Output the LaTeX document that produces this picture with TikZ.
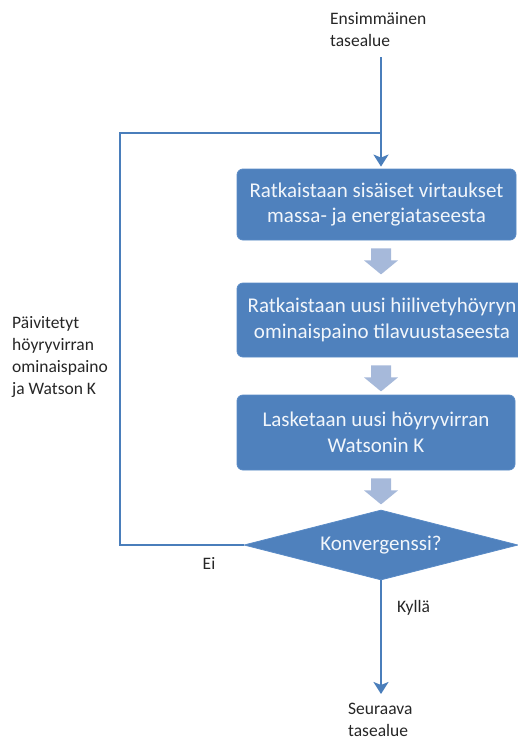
\documentclass[tikz,border=0pt]{standalone}
\usepackage{fontspec}
\setmainfont{Carlito}
\usetikzlibrary{arrows.meta,shapes.geometric}

\definecolor{boxblue}{HTML}{4F81BD}
\definecolor{boxedge}{HTML}{5A8BC6}
\definecolor{boxtext}{HTML}{F2F6FB}
\definecolor{flowblue}{HTML}{4A7EBB}
\definecolor{fatgray}{HTML}{A6B9DA}
\definecolor{labeltext}{HTML}{262626}

\tikzset{
  stepbox/.style={rectangle, rounded corners=6pt, fill=boxblue, draw=boxedge,
    line width=0.8pt, text=boxtext, align=center, inner sep=0pt,
    font=\fontsize{21}{25.5}\selectfont},
  decision/.style={diamond, aspect=3.9, fill=boxblue, draw=boxedge, line width=0.8pt,
    text=boxtext, inner sep=0pt, minimum width=274pt, minimum height=70pt,
    font=\fontsize{21}{25.5}\selectfont},
  lbl/.style={align=left, inner sep=0pt, text=labeltext,
    font=\fontsize{17.5}{22}\selectfont},
  flow/.style={draw=flowblue, line width=2.6pt, line join=miter},
  flowarrow/.style={flow, -{Stealth[length=12pt,width=15pt,inset=3pt]}},
  fatarrow/.pic={
    \fill[fatgray] (-10,8) -- (10,8) -- (10,20) -- (17,20) -- (0,34)
      -- (-17,20) -- (-10,20) -- cycle;
  }
}

\begin{document}
\begin{tikzpicture}[x=1pt,y=-1pt]
  \useasboundingbox (0,0) rectangle (518,740);
  \clip (0,0) rectangle (518,740);

  % process steps
  \node[stepbox, minimum width=279pt, minimum height=71pt] (b1) at (376.5,204.5)
    {Ratkaistaan sisäiset virtaukset\\massa- ja energiataseesta};
  \node[stepbox, minimum width=290pt, minimum height=74pt] (b2) at (382,320)
    {Ratkaistaan uusi hiilivetyhöyryn\\ominaispaino tilavuustaseesta};
  \node[stepbox, minimum width=278pt, minimum height=75pt] (b3) at (376,432.5)
    {Lasketaan uusi höyryvirran\\Watsonin K};
  \node[decision] (d) at (381,545) {Konvergenssi?};

  % texts
  \node[lbl, anchor=west] (start) at (330,30) {Ensimmäinen\\tasealue};
  \node[lbl, anchor=west] (next) at (348,720) {Seuraava\\tasealue};
  \node[lbl, anchor=west] (upd) at (12,357)
    {Päivitetyt\\höyryvirran\\ominaispaino\\ja Watson K};
  \node[lbl] (no) at (209,563) {Ei};
  \node[lbl, anchor=west] (yes) at (397,608) {Kyllä};

  % connector end points
  \coordinate (in) at (381,57);
  \coordinate (fb) at (381,133);
  \coordinate (corner) at (120,133);
  \coordinate (out) at (381,694);

  % main line in, and feedback loop
  \draw[flowarrow, shorten >=2pt] (in) -- (in |- b1.north);
  \draw[flow] (d.west) -| (corner) -- (fb);
  \draw[flowarrow] (d.south) -- (out);

  % block arrows between steps
  \pic at (b1.south -| in) {fatarrow};
  \pic at (b2.south -| in) {fatarrow};
  \pic at (b3.south -| in) {fatarrow};
\end{tikzpicture}
\end{document}
